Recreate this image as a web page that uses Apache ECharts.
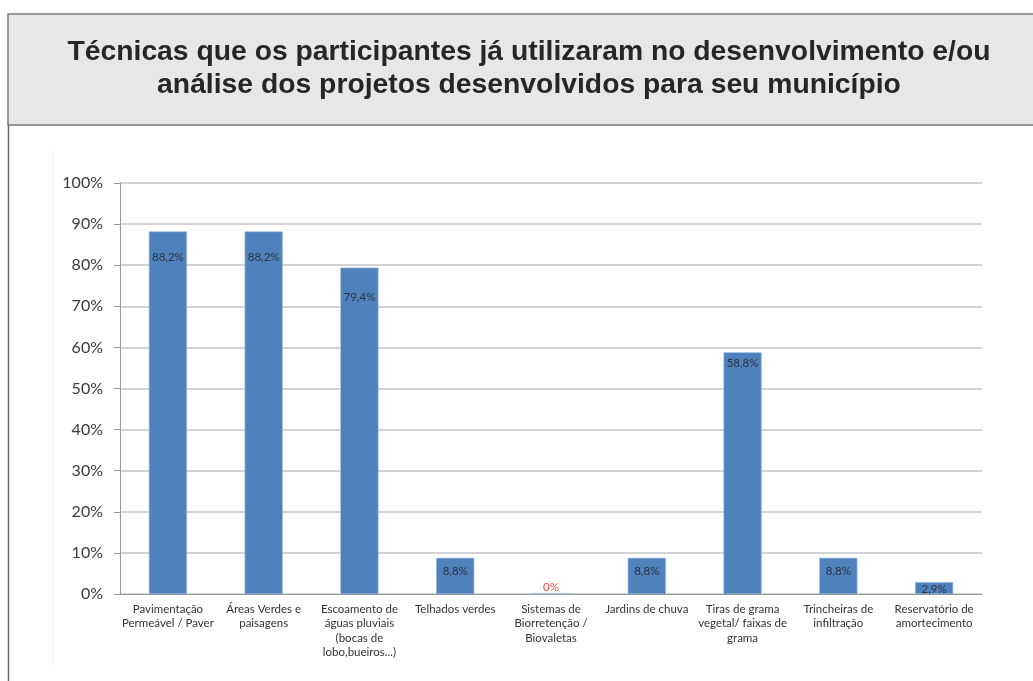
<!DOCTYPE html>
<html>
<head>
<meta charset="utf-8">
<style>
  html, body { margin: 0; padding: 0; background: #ffffff; }
  #chart { width: 1033px; height: 681px; }
</style>
<script src="https://cdn.jsdelivr.net/npm/echarts@6/dist/echarts.min.js"></script>
</head>
<body>
<div id="chart"></div>
<script>
// Técnicas utilizadas pelos participantes (percentual de respostas)
const categories = [
  'Pavimentação\nPermeável / Paver',
  'Áreas Verdes e\npaisagens',
  'Escoamento de\náguas pluviais\n(bocas de\nlobo,bueiros...)',
  'Telhados verdes',
  'Sistemas de\nBiorretenção /\nBiovaletas',
  'Jardins de chuva',
  'Tiras de grama\nvegetal/ faixas de\ngrama',
  'Trincheiras de\ninfiltração',
  'Reservatório de\namortecimento'
];
const values = [88.2, 88.2, 79.4, 8.8, 0, 8.8, 58.8, 8.8, 2.9];
const yTicks = [0, 10, 20, 30, 40, 50, 60, 70, 80, 90, 100];

// distance of each value label below the top of its bar
const labelDrop = [20, 20, 24, 7, 0, 7, 5, 7, 1];

const titleText = 'Técnicas que os participantes já utilizaram no desenvolvimento e/ou\nanálise dos projetos desenvolvidos para seu município';

const chart = echarts.init(document.getElementById('chart'), null, { renderer: 'canvas' });

const barData = values.map((v, i) => {
  if (v === 0) {
    return {
      value: v,
      label: { position: 'top', distance: 0, color: '#ff4444' }
    };
  }
  return { value: v, label: { position: 'insideTop', distance: labelDrop[i] } };
});

const option = {
  animation: false,
  backgroundColor: '#ffffff',
  graphic: [
    // header band
    {
      type: 'rect', z: -10,
      shape: { x: 8, y: 14, width: 1040, height: 111 },
      style: { fill: '#e6e7e9', stroke: '#7a7a7a', lineWidth: 1.5 }
    },
    // left frame line below header
    {
      type: 'line', z: -10,
      shape: { x1: 8.5, y1: 125, x2: 8.5, y2: 681 },
      style: { stroke: '#6a6a6a', lineWidth: 1.5 }
    },
    // faint chart-area edge
    {
      type: 'line', z: -10,
      shape: { x1: 52.5, y1: 150, x2: 52.5, y2: 665 },
      style: { stroke: '#f3f3f3', lineWidth: 1 }
    }
  ],
  title: {
    text: titleText,
    left: 524,
    textAlign: 'center',
    top: 31,
    textStyle: {
      fontFamily: 'Liberation Sans, Arial, sans-serif',
      fontWeight: 'bold',
      fontSize: 28.3,
      lineHeight: 33,
      color: '#262626'
    }
  },
  grid: { left: 120, right: 51, top: 183, bottom: 87, containLabel: false },
  xAxis: {
    type: 'category',
    data: categories,
    axisLine: { show: true, lineStyle: { color: '#9a9a9a', width: 1 } },
    axisTick: { show: false },
    axisLabel: {
      interval: 0,
      margin: 8,
      fontFamily: 'Lato, "Open Sans", sans-serif',
      fontSize: 11.5,
      lineHeight: 14.5,
      color: '#333333',
      align: 'center',
      verticalAlign: 'top'
    }
  },
  yAxis: {
    type: 'value',
    min: yTicks[0],
    max: yTicks[yTicks.length - 1],
    interval: 10,
    axisLine: { show: true, lineStyle: { color: '#9a9a9a', width: 1 } },
    axisTick: { show: true, length: 6, lineStyle: { color: '#9a9a9a' } },
    splitLine: { show: true, lineStyle: { color: '#c4c4c4', width: 1.5 } },
    axisLabel: {
      formatter: v => v + '%',
      margin: 17,
      fontFamily: 'Lato, "Open Sans", sans-serif',
      fontSize: 16,
      color: '#3a3a3a'
    }
  },
  series: [{
    type: 'bar',
    data: barData,
    barWidth: 38,
    itemStyle: { color: '#4f81bd', borderColor: '#8aaee0', borderWidth: 0.6 },
    label: {
      show: true,
      formatter: p => p.value.toFixed(1).replace('.', ',').replace(/,0$/, '') + '%',
      fontFamily: 'Lato, "Open Sans", sans-serif',
      fontSize: 11.5,
      color: '#2b3440'
    }
  }]
};

chart.setOption(option);
</script>
</body>
</html>
